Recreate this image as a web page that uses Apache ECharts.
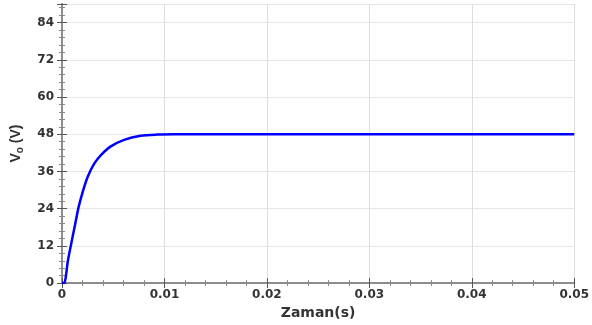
<!DOCTYPE html>
<html>
<head>
<meta charset="utf-8">
<script src="https://cdn.jsdelivr.net/npm/echarts@6/dist/echarts.min.js"></script>
<style>
html,body{margin:0;padding:0;background:#fff;}
#c{width:592px;height:325px;}
</style>
</head>
<body>
<div id="c"></div>
<script>
// Time (s)
var timeS = [0, 0.0002, 0.00058, 0.0009, 0.00123, 0.00162, 0.00203, 0.00251, 0.00316, 0.0038, 0.00477, 0.00606, 0.00767, 0.0093, 0.011, 0.015, 0.02, 0.03, 0.04, 0.05];
// Output voltage Vo (V)
var voltV = [0, 0, 7.3, 12.7, 18.1, 24.5, 29.5, 34.3, 38.6, 41.3, 44.1, 46.2, 47.5, 47.9, 48.0, 48.0, 48.0, 48.0, 48.0, 48.0];
var xTicks = [0, 0.01, 0.02, 0.03, 0.04, 0.05];
var yTicks = [0, 12, 24, 36, 48, 60, 72, 84];

var pts = timeS.map(function (t, i) { return [t, voltV[i]]; });

var chart = echarts.init(document.getElementById('c'), null, {renderer: 'canvas'});
var FONT = 'DejaVu Sans, Verdana, sans-serif';
var labelFont = {fontFamily: FONT, fontWeight: 'bold', fontSize: 12, color: '#333'};
var axisLine = {show: true, lineStyle: {color: '#8c8c8c', width: 2}};
var tick = {show: true, inside: true, length: 5, lineStyle: {color: '#555', width: 1}};
var minor = {show: true, splitNumber: 5, length: 3, lineStyle: {color: '#888', width: 1}};

chart.setOption({
  animation: false,
  backgroundColor: '#fff',
  grid: {left: 62, right: 13, top: 4, bottom: 41, containLabel: false},
  xAxis: [{
    type: 'value', min: 0, max: 0.05, interval: 0.01,
    axisLine: axisLine, axisTick: tick, minorTick: minor,
    splitLine: {show: true, lineStyle: {color: '#dedede', width: 1}},
    axisLabel: Object.assign({margin: 6, formatter: function (v) { var r = Math.round(v*100)/100; return xTicks.indexOf(r) >= 0 ? String(r) : ''; }}, labelFont),
    name: 'Zaman(s)', nameLocation: 'middle', nameGap: 22,
    nameTextStyle: {fontFamily: FONT, fontWeight: 'bold', fontSize: 14, color: '#333'}
  }, {
    type: 'value', position: 'top', min: 0, max: 0.05, interval: 0.01,
    axisLine: axisLine, axisTick: tick, minorTick: minor,
    axisLabel: {show: false}, splitLine: {show: false}
  }],
  yAxis: [{
    type: 'value', min: 0, max: 90, interval: 12,
    axisLine: axisLine, axisTick: tick, minorTick: minor,
    splitLine: {show: true, lineStyle: {color: '#e6e6e6', width: 1}},
    axisLabel: Object.assign({margin: 8, showMaxLabel: false, formatter: function (v) { return yTicks.indexOf(v) >= 0 ? String(v) : ''; }}, labelFont),
    name: '{v|V}{s|o}{v| (V)}', nameLocation: 'middle', nameGap: 37, nameRotate: 90,
    nameTextStyle: {
      rich: {
        v: {fontFamily: 'Liberation Sans, Arial, sans-serif', fontWeight: 'bold', fontSize: 14, color: '#333'},
        s: {fontFamily: 'Liberation Sans, Arial, sans-serif', fontWeight: 'bold', fontSize: 10, color: '#333', verticalAlign: 'bottom', padding: [8, 0, 0, 0]}
      }
    }
  }, {
    type: 'value', position: 'right', min: 0, max: 90, interval: 12,
    axisLine: axisLine, axisTick: tick, minorTick: minor,
    axisLabel: {show: false}, splitLine: {show: false}
  }],
  series: [{
    type: 'line', xAxisIndex: 0, yAxisIndex: 0,
    data: pts, smooth: 0.3, showSymbol: false, symbol: 'none',
    lineStyle: {color: '#0000ff', width: 2.5}
  }]
});
</script>
</body>
</html>
